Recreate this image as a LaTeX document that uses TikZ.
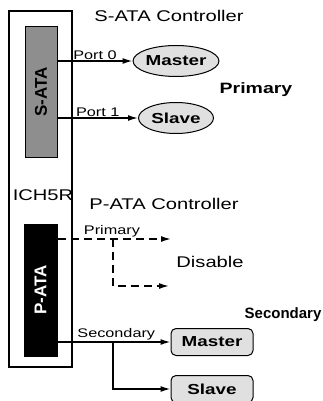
\documentclass[tikz,border=0pt]{standalone}
\usepackage{fontspec}
\setmainfont{Liberation Sans}[FakeStretch=1.3]
\newfontfamily\plainsans{Liberation Sans}
\usepackage{tikz}
\usetikzlibrary{positioning, arrows.meta, shapes.geometric}
\definecolor{chipgray}{HTML}{8E8E8E}
\definecolor{drivegray}{HTML}{E0E0E0}
\tikzset{
    every path/.style={
        line width=1.3pt
    },
    title/.style={
        font=\fontsize{15.5}{18}\selectfont
    },
    group/.style={
        font=\bfseries\fontsize{15}{17}\selectfont
    },
    port/.style={
        font=\fontsize{12.5}{15}\selectfont,
        inner sep=1pt
    },
    chip/.style={
        draw=black,
        line width=1pt,
        minimum width=32pt,
        rotate=90,
        font=\plainsans\bfseries\fontsize{17}{20}\selectfont
    },
    drive/.style={
        ellipse,
        draw=black,
        line width=1pt,
        fill=drivegray,
        minimum width=75pt,
        minimum height=31pt,
        inner sep=0pt,
        font=\bfseries\fontsize{14.5}{17}\selectfont
    },
    slot/.style={
        rectangle,
        rounded corners=5pt,
        draw=black,
        line width=1pt,
        fill=drivegray,
        minimum width=82pt,
        minimum height=27pt,
        inner sep=0pt,
        font=\bfseries\fontsize{14.5}{17}\selectfont
    },
    link/.style={
        -{Latex[length=10pt,width=6pt]},
        line width=1.5pt
    },
    offlink/.style={
        link,
        dash pattern=on 8pt off 5pt
    }
}

\begin{document}
\begin{tikzpicture}[x=1pt, y=-1pt]
            \useasboundingbox (0,0) rectangle (323,401);

            % Chip
            \node (ich) [draw=black, minimum width=63pt, minimum height=356pt] at (40.5,189) {};
            \node (sata) [chip, fill=chipgray, minimum height=32pt, minimum width=130pt] at (41,92) {S-ATA};
            \node (pata) [chip, fill=black, text=white, minimum height=33pt, minimum width=132pt] at (40.5,290) {P-ATA};
            \node (ichname) [title] at (43,195) {ICH5R};

            % S-ATA side
            \node (satatitle) [title] at (169,16) {S-ATA Controller};
            \node (smaster) [drive] at (176,61) {Master};
            \node (sslave) [drive] at (176,118) {Slave};
            \node (sprimary) [group] at (256,90) {Primary};

            % P-ATA side
            \node (patatitle) [title] at (164,204) {P-ATA Controller};
            \node (disable) [title] at (210,262) {Disable};
            \node (psecondary) [group, font=\plainsans\bfseries\fontsize{15}{17}\selectfont] at (283,315) {Secondary};
            \node (pmaster) [slot] at (212,342) {Master};
            \node (pslave) [slot] at (212,389) {Slave};

            % Free ends
            \coordinate (priend) at (171,239);
            \coordinate (pribranch) at (113,239);
            \coordinate (prilow) at (113,286);
            \coordinate (prilowend) at (169,286);
            \coordinate (secbranch) at (113,342);

            % Edges
            \draw [link] (sata.south |- smaster) -- node [port, above] {Port 0} (smaster);
            \draw [link] (sata.south |- sslave) -- node [port, above] {Port 1} (sslave);
            \draw [offlink] (pata.south |- priend) -- node [port, above, pos=0.48] {Primary} (priend);
            \draw [offlink] (pribranch) -- (prilow) -- (prilowend);
            \draw [link] (pata.south |- pmaster) -- node [port, above, pos=0.52] {Secondary} (pmaster);
            \draw [link] (secbranch) -- (secbranch |- pslave) -- (pslave);
        \end{tikzpicture}
\end{document}
